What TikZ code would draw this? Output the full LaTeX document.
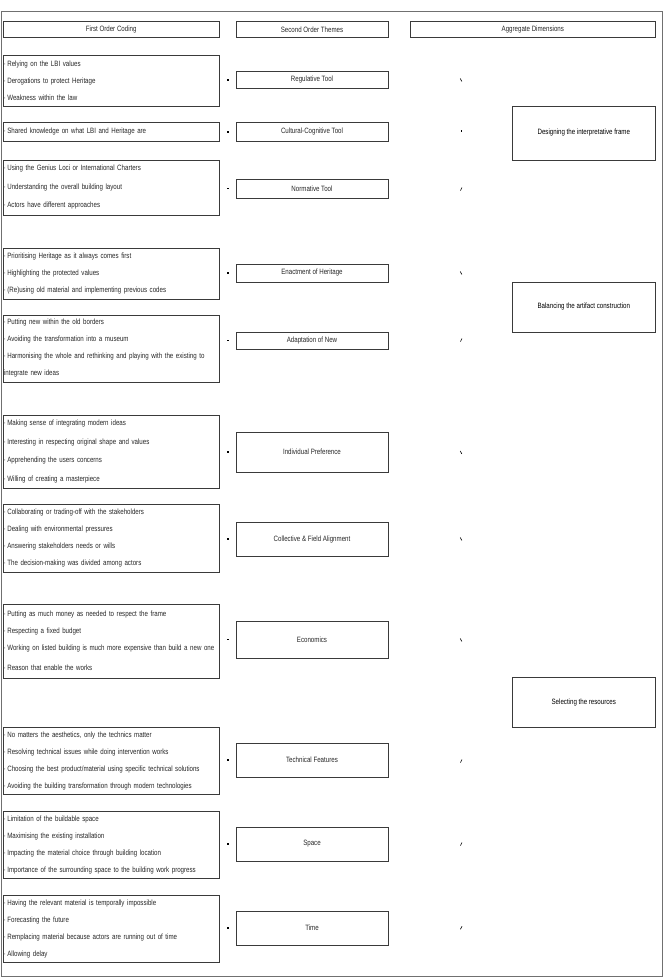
\documentclass[tikz,border=0pt]{standalone}
\usepackage{fontspec}
\setmainfont{Liberation Sans}[FakeStretch=0.8]
\definecolor{boxc}{HTML}{3A3A3A}
\definecolor{txt}{HTML}{262626}
\definecolor{framec}{HTML}{707070}
\tikzset{
  lst/.style={draw=boxc, line width=0.9pt, inner xsep=0.6pt, inner ysep=0pt,
    text width=214.4pt, align=left, text=txt, font=\fontsize{7.7}{17}\selectfont},
  theme/.style={draw=boxc, line width=0.9pt, minimum width=152pt, inner sep=0pt,
    text=txt, font=\fontsize{7.7}{8}\selectfont},
  hdr/.style={draw=boxc, line width=0.9pt, minimum height=16pt, inner sep=0pt,
    text=txt, font=\fontsize{7.7}{8}\selectfont},
  agg/.style={draw=boxc, line width=0.9pt, minimum width=143.6pt, inner sep=0pt,
    text=black, font=\fontsize{7.7}{8}\selectfont},
  dotm/.style={fill=black, minimum width=1.8pt, minimum height=1.4pt, inner sep=0pt},
  mk/.style={draw=black, line width=0.6pt}
}
\begin{document}
\begin{tikzpicture}[x=1pt,y=-1pt]
\useasboundingbox (0,0) rectangle (664,978);
\draw[framec, line width=1pt] (1.5,11) rectangle (662,976.5);
% headers
\node[hdr, minimum width=216pt] (h1) at (111.2,29.7) {First Order Coding};
\node[hdr, minimum width=152pt] (h2) at (312,29.7) {Second Order Themes};
\node[hdr, minimum width=245.6pt] (h3) at (532.8,29.7) {Aggregate Dimensions};
% first order lists
\node[lst, minimum height=51pt] (a) at (111.2,80.5) {·\,Relying on the LBI values\\·\,Derogations to protect Heritage\\·\,Weakness within the law};
\node[lst, minimum height=19.7pt] (b) at (111.2,131.8) {·\,Shared knowledge on what LBI and Heritage are};
\node[lst, minimum height=55pt, font=\fontsize{7.7}{18.5}\selectfont] (c) at (111.2,187.5) {·\,Using the Genius Loci or International Charters\\·\,Understanding the overall building layout\\·\,Actors have different approaches};
\node[lst, minimum height=51pt] (d) at (111.2,273.5) {·\,Prioritising Heritage as it always comes first\\·\,Highlighting the protected values\\·\,(Re)using old material and implementing previous codes};
\node[lst, minimum height=67pt] (e) at (111.2,348.5) {·\,Putting new within the old borders\\·\,Avoiding the transformation into a museum\\·\,Harmonising the whole and rethinking and playing with the existing to\\integrate new ideas};
\node[lst, minimum height=73pt, font=\fontsize{7.7}{18.6}\selectfont] (f) at (111.2,451.5) {·\,Making sense of integrating modern ideas\\·\,Interesting in respecting original shape and values\\·\,Apprehending the users concerns\\·\,Willing of creating a masterpiece};
\node[lst, minimum height=68pt] (g) at (111.2,538) {·\,Collaborating or trading-off with the stakeholders\\·\,Dealing with environmental pressures\\·\,Answering stakeholders needs or wills\\·\,The decision-making was divided among actors};
\node[lst, minimum height=74pt] (hh) at (111.2,641) {·\,Putting as much money as needed to respect the frame\\·\,Respecting a fixed budget\\·\,Working on listed building is much more expensive than build a new one\\[3pt]·\,Reason that enable the works};
\node[lst, minimum height=67pt] (i) at (111.2,760.5) {·\,No matters the aesthetics, only the technics matter\\·\,Resolving technical issues while doing intervention works\\·\,Choosing the best product/material using specific technical solutions\\·\,Avoiding the building transformation through modern technologies};
\node[lst, minimum height=67pt] (j) at (111.2,844.5) {·\,Limitation of the buildable space\\·\,Maximising the existing installation\\·\,Impacting the material choice through building location\\·\,Importance of the surrounding space to the building work progress};
\node[lst, minimum height=67pt] (k) at (111.2,928.5) {·\,Having the relevant material is temporally impossible\\·\,Forecasting the future\\·\,Remplacing material because actors are running out of time\\·\,Allowing delay};
% themes
\node[theme, minimum height=16.6pt] (t1) at (312,80) {Regulative Tool};
\node[theme, minimum height=19.7pt] (t2) at (312,131.8) {Cultural-Cognitive Tool};
\node[theme, minimum height=19pt] (t3) at (312,188.5) {Normative Tool};
\node[theme, minimum height=18pt] (t4) at (312,273) {Enactment of Heritage};
\node[theme, minimum height=17pt] (t5) at (312,340.5) {Adaptation of New};
\node[theme, minimum height=40pt] (t6) at (312,452) {Individual Preference};
\node[theme, minimum height=34pt] (t7) at (312,539) {Collective \& Field Alignment};
\node[theme, minimum height=37pt] (t8) at (312,639.5) {Economics};
\node[theme, minimum height=34pt] (t9) at (312,760) {Technical Features};
\node[theme, minimum height=34pt] (t10) at (312,844) {Space};
\node[theme, minimum height=34pt] (t11) at (312,928) {Time};
% aggregate
\node[agg, minimum height=54pt] (g1) at (583.8,133) {Designing the interpretative frame};
\node[agg, minimum height=50pt] (g2) at (583.8,307) {Balancing the artifact construction};
\node[agg, minimum height=50pt] (g3) at (583.8,702) {Selecting the resources};
% small dots left of themes
\foreach \y [count=\n] in {80,131.8,188.5,273,340.5,452,539,639.5,760,844,928}
  \node[dotm] (dt\n) at (228,\y) {};
% marks right of themes
\node[dotm] (m2) at (461.5,131) {};
\foreach \y in {80,273,452.5,539,640}
  \draw[mk] (460.2,\y-1.6) -- (461.8,\y+1.4);
\foreach \y in {189,340,761,844,927.7}
  \draw[mk] (460.4,\y+1.6) -- (462,\y-1.5);
\end{tikzpicture}
\end{document}
